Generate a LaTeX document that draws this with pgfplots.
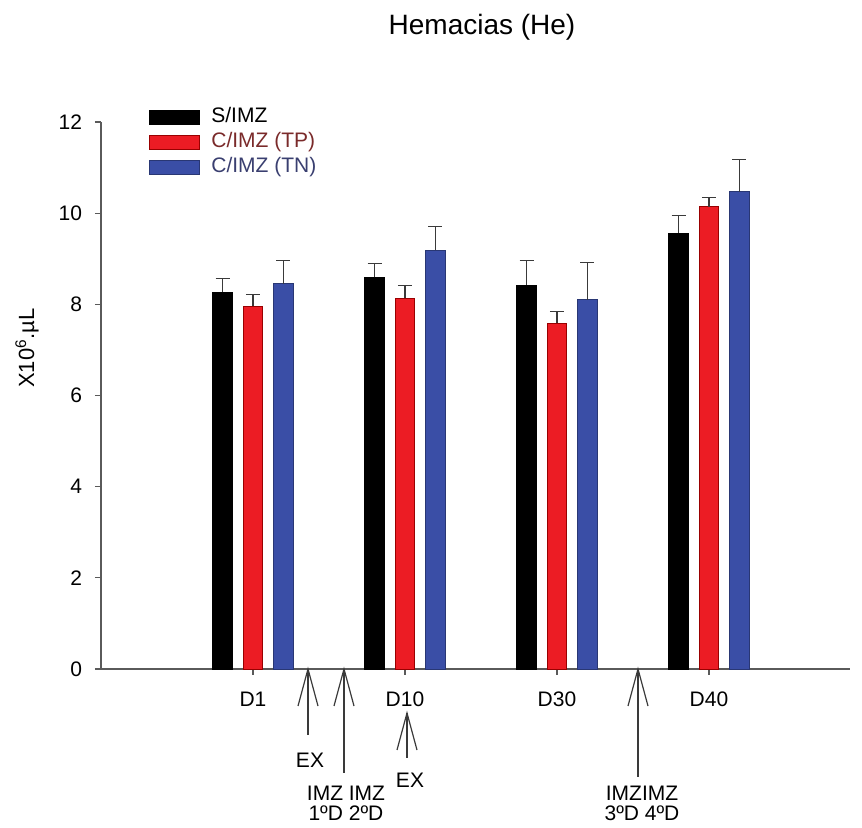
\documentclass[border=0pt]{standalone}
\usepackage{fontspec}
\setmainfont{Liberation Sans}
\usepackage{pgfplots}
\pgfplotsset{compat=1.18}

\definecolor{barred}{HTML}{EC1C24}
\definecolor{barblue}{HTML}{3A4EA6}
\definecolor{axgray}{HTML}{5A5A5A}
\definecolor{errgray}{HTML}{3A3A3A}
\definecolor{legred}{HTML}{7A2A2A}
\definecolor{legblue}{HTML}{3A3F70}

% each group sits at day index 1..4; the three treatments at -0.2, 0, +0.2
\pgfplotsset{
  hebar/.style={ybar, bar width=9.75pt, bar shift=0pt, line width=0.4pt,
    error bars/.cd, y dir=plus, y explicit,
    error bar style={line width=0.6pt, draw=errgray},
    error mark options={rotate=90, mark size=3.5pt, line width=0.6pt, draw=errgray},
    /pgfplots/.cd},
}

\begin{document}
\begin{tikzpicture}[font=\fontsize{10.5}{12}\selectfont]
% page frame
\path (-50.5pt,-78pt) rectangle (380.5pt,334.5pt);
\begin{axis}[
  at={(0,0)}, anchor=south west,
  width=374.5pt, height=273.5pt, scale only axis,
  xmin=0, xmax=4.928, ymin=0, ymax=12,
  axis x line=bottom, axis y line=left,
  axis line style={-, draw=axgray, line width=0.6pt},
  xtick={1,2,3,4}, xticklabels={D1,D10,D30,D40},
  ytick={0,2,...,12},
  tick align=outside, major tick length=3pt,
  tick style={draw=axgray, line width=0.6pt},
  xticklabel style={yshift=-5pt},
  yticklabel style={xshift=-3pt},
  /pgf/number format/assume math mode=true,
  clip=false,
  legend style={at={(rel axis cs:0.063,1.0325)}, anchor=north west,
    draw=none, fill=none, inner sep=0pt, row sep=0pt,
    /tikz/every odd column/.append style={column sep=5pt},
    nodes={inner sep=1pt, text height=8pt, text depth=2.5pt, anchor=west}},
  legend cell align=left,
]
\addlegendimage{legend image code/.code={\fill[black] (0pt,-3.5pt) rectangle (25pt,3.5pt);}}
\addlegendentry{S/IMZ}
\addlegendimage{legend image code/.code={\fill[barred, draw=red!60!black, line width=0.4pt] (0pt,-3.5pt) rectangle (25pt,3.5pt);}}
\addlegendentry{\textcolor{legred}{C/IMZ (TP)}}
\addlegendimage{legend image code/.code={\fill[barblue, draw=barblue!70!black, line width=0.4pt] (0pt,-3.5pt) rectangle (25pt,3.5pt);}}
\addlegendentry{\textcolor{legblue}{C/IMZ (TN)}}

% S/IMZ
\addplot[hebar, fill=black, draw=black, forget plot]
  coordinates {(0.8,8.26) +- (0,0.31) (1.8,8.59) +- (0,0.31) (2.8,8.42) +- (0,0.54) (3.8,9.56) +- (0,0.39)};
% C/IMZ (TP)
\addplot[hebar, fill=barred, draw=red!60!black, forget plot]
  coordinates {(1,7.96) +- (0,0.25) (2,8.13) +- (0,0.29) (3,7.58) +- (0,0.27) (4,10.14) +- (0,0.21)};
% C/IMZ (TN)
\addplot[hebar, fill=barblue, draw=barblue!70!black, forget plot]
  coordinates {(1.2,8.45) +- (0,0.51) (2.2,9.19) +- (0,0.51) (3.2,8.10) +- (0,0.82) (4.2,10.47) +- (0,0.71)};
\end{axis}

% title and y label
\node[font=\fontsize{14}{16}\selectfont, anchor=base] at (190.5pt,317pt) {Hemacias (He)};
\node[rotate=90, font=\fontsize{11}{13}\selectfont] at (-37pt,160.5pt) {X10\textsuperscript{6}.µL};

% treatment arrows below the time axis
\begin{scope}[draw=errgray, line width=0.6pt]
  % EX
  \draw (98.5pt,-18.5pt) -- (103.5pt,0pt) -- (108.5pt,-18.5pt);
  \draw (103.5pt,0pt) -- (103.5pt,-33pt);
  \node at (104.5pt,-45.5pt) {EX};
  % IMZ 1st/2nd dose
  \draw (116.5pt,-18.5pt) -- (121.5pt,0pt) -- (126.5pt,-18.5pt);
  \draw (121.5pt,0pt) -- (121.5pt,-52pt);
  \node at (122.5pt,-62pt) {IMZ IMZ};
  \node at (122.5pt,-72pt) {1ºD 2ºD};
  % EX under D10
  \draw (148pt,-40.5pt) -- (153pt,-22pt) -- (158pt,-40.5pt);
  \draw (153pt,-22pt) -- (153pt,-44.5pt);
  \node at (154.5pt,-55.5pt) {EX};
  % IMZ 3rd/4th dose
  \draw (263.5pt,-18.5pt) -- (268.5pt,0pt) -- (273.5pt,-18.5pt);
  \draw (268.5pt,0pt) -- (268.5pt,-54pt);
  \node at (270.5pt,-62pt) {IMZIMZ};
  \node at (270.5pt,-72pt) {3ºD 4ºD};
\end{scope}
\end{tikzpicture}
\end{document}
